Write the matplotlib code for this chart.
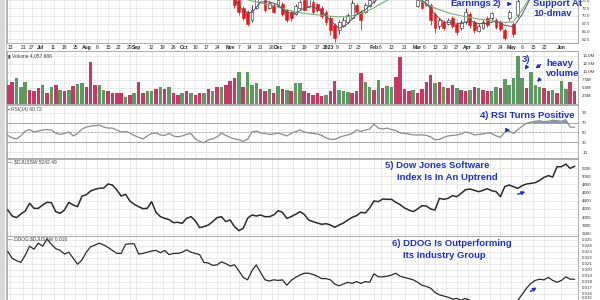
import numpy as np
import pandas as pd
import matplotlib
matplotlib.use("Agg")
import matplotlib.pyplot as plt
from matplotlib.patches import Rectangle
from matplotlib.lines import Line2D

plt.rcParams['font.family'] = ['Liberation Sans', 'DejaVu Sans']

W, H = 600, 300

# ---------------- data ----------------
sessions = pd.bdate_range("2022-06-10", "2023-06-09")      # trading-day axis
line_dates = sessions[::2]                                   # every other session
price_dates = sessions[100:241:2]
ma_dates = sessions[100:241:4]

djussw = [4176, 4029, 3989, 4078, 4151, 4338, 4216, 4216, 4298, 4363, 4354, 4135, 4094, 4176,
          4363, 4298, 4257, 4509, 4550, 4639, 4680, 4704, 4712, 4810, 4785, 4663, 4517, 4558,
          4395, 4314, 4257, 4208, 4216, 4379, 4119, 4013, 3972, 3940, 3867, 3875, 3850, 3972,
          4013, 3915, 3745, 3769, 3810, 3891, 3989, 4013, 3891, 3932, 3769, 3671, 3728, 3972,
          4054, 4029, 4054, 4013, 4013, 4054, 4159, 4119, 3972, 4013, 4070, 4135,
          4070, 3932, 3891, 3858, 3826, 3842, 3810, 3753, 3810, 3858, 3932, 3997, 4037, 4119,
          4102, 4224, 4395, 4379, 4444, 4436, 4436, 4363, 4306, 4224, 4176, 4135, 4200, 4281,
          4273, 4200, 4176, 4460, 4436, 4460, 4525, 4501, 4582, 4672, 4688, 4655, 4623, 4655,
          4696, 4647, 4623, 4501, 4745, 4785, 4745, 4704, 4769, 4810, 4826, 4842, 4899, 4972,
          5013, 4980, 5232, 5232, 5297, 5192, 5242]

rsi14 = [44, 39, 37, 43, 53, 56, 51, 53, 55, 56, 55, 49, 46, 48, 51, 43, 48, 57, 61, 63,
         64, 65, 61, 59, 59, 55, 51, 52, 49, 44, 40, 37, 43, 48, 49, 45, 44, 48, 43, 41,
         43, 46, 48, 37, 32, 29, 35, 37, 41, 49, 44, 40, 37, 35, 32, 36, 51, 53, 49, 48,
         46, 47, 49, 46, 43, 48, 52, 55,
         51, 49, 48, 47, 44, 39, 36, 36, 40, 43, 45, 48, 55, 52, 55, 57, 67, 59, 57, 59,
         56, 54, 49, 48, 47, 45, 45, 45, 44, 41, 35, 36, 40, 43, 44, 45, 47, 51, 49, 45,
         46, 47, 49, 48, 43, 40, 51, 53, 48, 56, 63, 69, 71, 73, 74, 72, 73, 75, 74, 73,
         76, 61, 60.7]

ratio_k = [23.0, 21.9, 21.5, 21.2, 22.4, 23.9, 23.4, 24.4, 23.9, 25.1, 24.2, 23.5, 23.2, 22.6,
           22.9, 21.9, 20.9, 21.6, 22.9, 23.8, 24.1, 24.4, 24.1, 23.7, 23.2, 22.7, 22.7, 24.2,
           24.3, 24.3, 22.6, 22.7, 22.9, 23.1, 23.2, 22.8, 23.2, 22.5, 22.7, 22.7, 22.9, 23.3,
           22.9, 22.7, 22.5, 21.2, 21.1, 20.7, 20.8, 21.3, 21.0, 20.6, 20.8, 19.8, 18.7, 18.3,
           19.8, 20.8, 19.5, 18.3, 18.1, 18.3, 18.2, 18.3, 17.4, 18.2, 18.7, 19.1,
           19.4, 19.4, 19.2, 18.9, 18.5, 18.5, 18.3, 17.6, 17.3, 17.6, 17.9, 17.7, 18.0, 17.7,
           18.0, 17.9, 19.3, 18.8, 18.8, 18.9, 19.1, 19.4, 18.9, 18.7, 18.5, 18.3, 17.9, 17.4,
           17.2, 16.9, 16.2, 15.8, 15.6, 15.4, 15.1, 15.2, 14.9, 15.2, 14.9, 14.7, 14.4, 14.3,
           14.4, 14.2, 14.3, 14.1, 14.3, 14.2, 14.4, 14.9, 15.9, 16.9, 17.7, 18.2, 18.4, 18.3,
           18.7, 18.2, 17.9, 18.2, 18.8, 18.4, 18.4]   # DDOG:$DJUSSW x 1000

volume_m = [5.9, 7.0, 8.0, 5.4, 7.0, 4.4, 3.9, 4.9, 5.9, 3.3, 5.4, 5.9, 4.4, 3.9, 4.4, 5.6,
            6.2, 6.4, 5.4, 13.2, 5.9, 5.9, 4.4, 3.9, 3.3, 3.5, 3.3, 2.3, 2.8, 3.3, 7.0, 3.3,
            3.9, 3.9, 4.6, 5.4, 4.6, 5.2, 3.3, 2.8, 3.5, 3.9, 3.5, 2.8, 3.5, 3.3, 4.6, 3.9,
            5.2, 5.2, 5.9, 7.3, 8.0, 10.1, 5.4, 10.1, 5.9, 6.6, 4.6, 4.2, 4.6, 3.5, 5.6, 4.6,
            4.4, 3.9, 6.4, 6.4,
            4.2, 3.3, 2.8, 3.3, 2.5, 2.8, 3.9, 7.3, 4.4, 3.9, 3.7, 3.3, 3.9, 9.8, 7.0, 5.4,
            4.4, 7.5, 4.9, 5.6, 5.4, 8.3, 14.7, 4.6, 3.9, 4.4, 3.5, 4.6, 7.0, 9.0, 6.4, 7.0,
            5.4, 4.9, 5.9, 4.9, 4.4, 3.9, 4.4, 5.2, 4.9, 4.4, 3.9, 3.9, 5.4, 4.9, 7.7, 5.9,
            8.0, 14.9, 8.0, 4.9, 10.1, 5.9, 5.4, 4.9, 3.9, 4.4, 3.5, 7.3, 4.6, 7.0, 4.06]
volume_dir = list("rrgggrrrgrgrgrgrggrrrggrrrrgrgrrggrgrgrrgrgrrgrgrgrrrgrgggrrgrgrgrgg"
                  "rrrrrgrrgggrrrggrgrggrrrrgrrrrgrgrrgrrgrgrrggrgggggrgggrrgrggrr")

p_open = [80.0, 80.5, 76.7, 75.1, 72.6, 71.3, 68.7, 72.6, 76.5, 75.1, 72.6, 73.5, 73.2, 73.8,
          71.9, 71.3, 70.6, 72.6, 75.1, 73.2, 74.5, 73.8, 72.6, 71.3, 69.4, 67.1, 65.5, 66.8,
          68.1, 69.4, 73.5, 71.3, 71.3, 73.2, 74.8, 76.0, 77.5, 78.5, 80.0, 81.5, 80.5, 79.0,
          78.0, 77.0, 73.2, 74.5, 73.5, 73.5, 70.6, 66.8, 68.1, 67.5, 69.4, 67.5, 66.2, 68.1,
          70.6, 68.1, 65.2, 66.2, 69.4, 69.4, 68.7, 68.1, 65.5, 69.4, 67.5, 70.3, 77.0, 80.0, 82.0]
p_high = [81.0, 81.0, 77.0, 75.5, 73.2, 71.9, 73.5, 77.0, 78.8, 75.7, 74.8, 74.1, 75.6, 74.5,
          72.2, 71.9, 73.8, 75.1, 75.7, 76.2, 75.1, 74.1, 73.2, 71.9, 70.0, 67.8, 68.7, 69.7,
          70.9, 75.1, 74.1, 71.9, 74.1, 75.7, 77.0, 78.0, 79.0, 80.5, 82.0, 82.5, 81.0, 79.5,
          78.5, 77.5, 75.6, 75.1, 75.5, 74.1, 71.3, 69.4, 68.7, 69.4, 70.0, 68.1, 68.7, 72.6,
          71.3, 68.7, 67.5, 68.7, 70.0, 71.3, 69.4, 68.7, 66.2, 71.9, 68.1, 75.5, 81.0, 83.0, 85.0]
p_low = [79.0, 78.5, 72.6, 70.3, 68.7, 66.8, 68.1, 72.2, 76.0, 71.3, 72.2, 70.9, 72.9, 70.0,
         68.1, 68.4, 70.3, 72.2, 71.6, 72.9, 70.6, 71.3, 69.4, 67.1, 63.9, 61.7, 64.3, 66.5,
         67.8, 69.0, 70.6, 65.5, 70.9, 72.9, 74.1, 75.4, 77.0, 78.0, 79.5, 80.0, 78.5, 77.5,
         76.5, 75.8, 72.9, 72.2, 73.2, 67.1, 64.6, 65.9, 65.5, 67.1, 66.2, 63.9, 65.5, 67.5,
         66.2, 64.6, 64.9, 65.9, 66.5, 68.7, 65.9, 65.2, 62.4, 68.7, 63.3, 69.7, 76.0, 79.0, 81.0]
p_close = [80.5, 79.0, 73.5, 71.3, 69.4, 67.5, 71.9, 76.7, 78.3, 71.9, 74.1, 71.3, 75.1, 70.6,
           68.7, 69.4, 73.2, 74.5, 71.9, 75.7, 71.3, 71.9, 70.0, 68.1, 65.5, 63.0, 68.1, 68.7,
           70.3, 74.1, 71.3, 68.7, 73.5, 75.1, 76.5, 77.5, 78.5, 80.0, 81.5, 80.5, 79.0, 78.0,
           77.0, 76.2, 75.1, 72.6, 75.1, 68.7, 66.2, 68.7, 66.2, 68.7, 66.8, 64.9, 68.1, 71.3,
           67.1, 65.5, 66.8, 68.1, 67.1, 71.0, 66.5, 65.9, 63.0, 71.3, 64.3, 74.8, 80.0, 82.0, 84.0]

ma_long = [77.0, 76.5, 75.6, 74.8, 74.2, 73.5, 72.8, 72.0, 71.3, 70.8, 70.5, 70.2, 69.9, 69.7,
           69.8, 70.3, 71.2, 72.6, 74.3, 75.6, 76.2, 76.4, 75.4, 73.8, 72.5, 71.5, 70.6, 70.0,
           69.5, 69.0, 68.6, 68.2, 67.9, 68.1, 71.9, 76.5]
ma_short = [78.0, 75.5, 71.5, 71.0, 74.5, 74.5, 73.5, 71.0, 70.8, 72.5, 73.0, 71.5, 68.5, 66.0,
            67.5, 70.5, 72.0, 74.5, 76.5, 78.5, 79.5, 78.5, 76.0, 74.0, 70.5, 68.0, 67.8, 67.5,
            68.5, 67.5, 67.6, 68.3, 67.0, 66.5, 70.5, 76.0]

tick_dates = ["2022-06-13", "2022-06-21", "2022-06-27", "2022-07-01", "2022-07-11", "2022-07-18",
              "2022-07-25", "2022-08-01", "2022-08-08", "2022-08-15", "2022-08-22", "2022-08-29",
              "2022-09-01", "2022-09-12", "2022-09-19", "2022-09-26", "2022-10-03", "2022-10-10",
              "2022-10-17", "2022-10-24", "2022-11-01", "2022-11-07", "2022-11-14", "2022-11-21",
              "2022-11-28", "2022-12-01", "2022-12-12", "2022-12-19", "2022-12-27", "2023-01-03",
              "2023-01-09", "2023-01-17", "2023-01-23", "2023-02-01", "2023-02-06", "2023-02-13",
              "2023-02-21", "2023-03-01", "2023-03-06", "2023-03-13", "2023-03-20", "2023-03-27",
              "2023-04-03", "2023-04-10", "2023-04-17", "2023-04-24", "2023-05-01", "2023-05-08",
              "2023-05-15", "2023-05-22", "2023-06-01"]
tick_labels = ["13", "21", "27", "Jul", "11", "18", "25", "Aug", "8", "15", "22", "29", "Sep",
               "12", "19", "26", "Oct", "10", "17", "24", "Nov", "7", "14", "21", "28", "Dec",
               "12", "19", "27", "2023", "9", "17", "23", "Feb", "6", "13", "21", "Mar", "6",
               "13", "20", "27", "Apr", "10", "17", "24", "May", "8", "15", "22", "Jun"]

price_ticks = [62.5, 65.0, 67.5, 70.0, 72.5, 75.0]
vol_ticks = [2.5, 5.0, 7.5, 10.0, 12.5, 15.0]
rsi_ticks = [10, 30, 50, 70, 90]
djus_ticks = [3600, 3800, 4000, 4200, 4400, 4600, 4800, 5000, 5200]
ratio_ticks = [0.015, 0.016, 0.017, 0.018, 0.019, 0.020, 0.021, 0.022, 0.023, 0.024, 0.025]

# ---------------- drawing ----------------
BLUE = "#2434b0"
RED_V, GREEN_V = "#c43a64", "#5f9862"
RED_C = "#e01b1b"

fig = plt.figure(figsize=(6, 3), dpi=100)
fig.patch.set_facecolor("white")


def pos(d):
    return sessions.get_indexer(pd.DatetimeIndex(d)).astype(float)


x_line = pos(line_dates)
x_price = pos(price_dates)
x_ma = pos(ma_dates)
x_ticks = pos(tick_dates)
XMIN, XMAX = -0.37, 261.6
PL, PR = 7, 578


def panel(top, bottom, ylim, yticks, ylabels):
    ax = fig.add_axes([PL / W, 1 - bottom / H, (PR - PL) / W, (bottom - top) / H])
    ax.set_xlim(XMIN, XMAX)
    ax.set_ylim(*ylim)
    ax.set_xticks(x_ticks)
    ax.set_yticks(yticks)
    ax.set_yticklabels(ylabels)
    ax.yaxis.tick_right()
    ax.tick_params(axis="both", length=0)
    ax.tick_params(axis="x", labelbottom=False)
    ax.tick_params(axis="y", labelsize=3.2, labelcolor="#333333", pad=3)
    ax.grid(True, color="#e2e2e2", lw=0.5)
    ax.set_axisbelow(True)
    for s in ax.spines.values():
        s.set_color("#a0a0a0")
        s.set_linewidth(0.6)
    return ax


def ftxt(x, y, s, **kw):
    fig.text(x / W, 1 - y / H, s, **kw)


def farrow(x0, y0, x1, y1):
    fig.add_artist(matplotlib.patches.FancyArrowPatch(
        (x0 / W, 1 - y0 / H), (x1 / W, 1 - y1 / H), transform=fig.transFigure,
        arrowstyle="-|>", mutation_scale=5, color=BLUE, lw=1.0))


# price panel
axp = panel(0, 43, (61.3, 75.1), price_ticks, [f"{v:.1f}" for v in price_ticks])
axp.spines["top"].set_visible(False)
axp.tick_params(axis="x", labelbottom=True, labelsize=3.6, pad=1.2, labelcolor="#222222")
axp.set_xticklabels(tick_labels)
for lbl, t in zip(axp.get_xticklabels(), tick_labels):
    if t.isalpha() or len(t) == 4:
        lbl.set_fontweight("bold")
o, hi, lo, c = map(np.array, (p_open, p_high, p_low, p_close))
up = c >= o
axp.vlines(x_price, lo, hi, colors=np.where(up, "#222222", RED_C), lw=0.6, zorder=3)
axp.bar(x_price, np.maximum(np.abs(c - o), 0.1), bottom=np.minimum(o, c), width=1.3,
        color=np.where(up, "white", RED_C), edgecolor=np.where(up, "#222222", RED_C),
        lw=0.4, zorder=4)
axp.plot(x_ma, ma_long, color="#78b078", lw=0.8, zorder=5)
axp.plot(x_ma, ma_short, color="#55556a", lw=0.7, zorder=5)

# volume panel
axv = panel(51, 104, (0, 16.5), vol_ticks, [f"{v:.1f}M" for v in vol_ticks])
axv.bar(x_line, volume_m, width=1.6, color=[GREEN_V if d == "g" else RED_V for d in volume_dir],
        lw=0, zorder=3)

# RSI panel
axr = panel(105, 158, (-2, 106), rsi_ticks, [str(v) for v in rsi_ticks])
r = np.array(rsi14, dtype=float)
axr.axhline(70, color="#9a9a9a", lw=0.6, zorder=2)
axr.axhline(30, color="#9a9a9a", lw=0.6, zorder=2)
axr.axhline(50, color="#9a9a9a", lw=0.5, ls=(0, (3, 2)), zorder=2)
axr.fill_between(x_line, r, 70, where=r >= 70, interpolate=True, color="#7f96b8", lw=0, zorder=3)
axr.plot(x_line, r, color="#8c8c8c", lw=0.9, zorder=4)

# $DJUSSW panel
axd = panel(159, 236, (3541, 5420), djus_ticks, [str(v) for v in djus_ticks])
axd.plot(x_line, djussw, color="#2b2b2b", lw=1.1, zorder=3)

# ratio panel (lowest label sits at the cropped bottom edge; shown slightly raised)
axq = panel(236, 300, (0.01494, 0.0256), ratio_ticks, [f"{v:.3f}" for v in ratio_ticks])
axq.spines["bottom"].set_visible(False)
axq.get_yticklabels()[0].set_va("bottom")
axq.plot(x_line, np.array(ratio_k) / 1000.0, color="#2b2b2b", lw=0.9, zorder=3)

# left frame strip
fig.add_artist(Rectangle((0, 0), 5 / W, 1, transform=fig.transFigure, color="#d8d8d8", lw=0))
fig.add_artist(Line2D([5.5 / W, 5.5 / W], [0, 1], transform=fig.transFigure, color="#a8a8a8", lw=0.6))

# panel headers
hdr = dict(fontsize=3.5, color="#444444", va="center", ha="left")
ftxt(8, 56, "\u25AE Volume 4,057,886", **hdr)
ftxt(8, 109, "\u25AA RSI(14) 60.72", **hdr)
ftxt(8, 162, "\u2014 $DJUSSW 5242.49", **hdr)
ftxt(8, 239, "\u2014 DDOG:$DJUSSW 0.018", **hdr)

# annotations
ann = dict(fontsize=6.8, color=BLUE, fontweight="bold", va="center", ha="left")
ftxt(450, 4, "Earnings", **ann)
ftxt(493, 4, "2)", **ann)
farrow(505, 4, 515, 4)
ftxt(533, 4, "Support At", **ann)
ftxt(533, 14, "10-dmav", **ann)
ftxt(522, 60, "3)", **ann)
farrow(528, 65, 523, 72)
ftxt(546, 63, "heavy", **ann)
farrow(543, 63, 533, 70)
ftxt(546, 74, "volume", **ann)
farrow(541, 78, 535, 84)
ftxt(480, 116, "4) RSI Turns Positive", **ann)
farrow(503, 130, 513, 130)
ftxt(385, 166, "5) Dow Jones Software", **ann)
ftxt(397, 177, "Index Is In An Uptrend", **ann)
farrow(515, 195, 528, 191)
ftxt(392, 244, "6) DDOG Is Outperforming", **ann)
ftxt(403, 255, "Its Industry Group", **ann)
farrow(528, 293, 539, 286)

fig.savefig("out.png", dpi=100)
